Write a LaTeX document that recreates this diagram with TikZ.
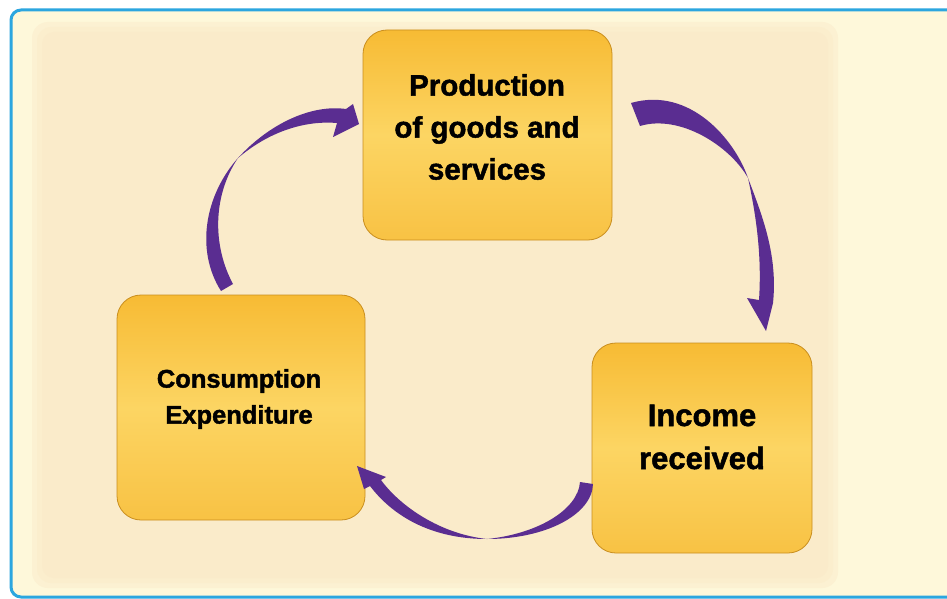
\documentclass[tikz,border=0pt]{standalone}
\usepackage{fontspec}
\setmainfont{Liberation Sans}[BoldFeatures={FakeBold=1.6}]
\definecolor{frameblue}{HTML}{2CA6DF}
\definecolor{outerbg}{HTML}{FEF8DA}
\definecolor{innerbg}{HTML}{FAEBCA}
\definecolor{boxtop}{HTML}{F7BB34}
\definecolor{boxmid}{HTML}{FCD563}
\definecolor{boxbot}{HTML}{F8C244}
\definecolor{boxedge}{HTML}{C98E1E}
\definecolor{arrowpurple}{HTML}{5A2D91}
\tikzset{
  flowbox/.style={rectangle, rounded corners=24pt, draw=boxedge, line width=0.8pt,
    top color=boxtop, bottom color=boxbot, middle color=boxmid, inner sep=0pt},
  boxtext/.style={align=center, font=\bfseries, text=black},
  curvearrow/.style={fill=arrowpurple, draw=none}
}
\begin{document}
\begin{tikzpicture}[x=1pt,y=-1pt]
\useasboundingbox (0,0) rectangle (947,599);
% background frame
\fill[white] (0,0) rectangle (947,599);
\draw[frameblue, line width=3pt, fill=outerbg, rounded corners=10pt] (11,10) rectangle (965,597);
\fill[innerbg!50!outerbg, rounded corners=16pt] (32,22) rectangle (838,588);
\fill[innerbg!80!outerbg, rounded corners=14pt] (37,27) rectangle (833,583);
\fill[innerbg, rounded corners=12pt] (42,32) rectangle (828,578);

% boxes
\node[flowbox, minimum width=249pt, minimum height=210pt] (prod) at (487.5,135) {};
\node[flowbox, minimum width=248pt, minimum height=225pt] (cons) at (241,407.5) {};
\node[flowbox, minimum width=220pt, minimum height=210pt] (inc) at (702,448) {};

% texts
\node[boxtext, font=\bfseries\fontsize{29.5}{42}\selectfont] (prodtxt) at (487,127)
  {Production\\of goods and\\services};
\node[boxtext, font=\bfseries\fontsize{25.5}{36}\selectfont] (constxt) at (239,399)
  {Consumption\\Expenditure};
\node[boxtext, font=\bfseries\fontsize{31}{43}\selectfont] (inctxt) at (702,437)
  {Income\\received};

% arrow: production -> income (top right)
\fill[curvearrow] (631,103) .. controls (690,86) and (735,140) .. (748,178)
  .. controls (762,215) and (778,255) .. (773,303)
  -- (766,331) -- (747,298) -- (759,300)
  .. controls (762,255) and (756,215) .. (748,178)
  .. controls (730,146) and (680,114) .. (640,126) -- cycle;

% arrow: income -> consumption (bottom)
\fill[curvearrow] (593,484) .. controls (592,515) and (545,539) .. (487,539)
  .. controls (430,539) and (392,515) .. (370,486)
  -- (364,489) -- (357,466) -- (386,477) -- (381,480)
  .. controls (400,506) and (440,534) .. (487,539)
  .. controls (537,534) and (578,510) .. (580,482) -- cycle;

% arrow: consumption -> production (left)
\fill[curvearrow] (221,291) .. controls (195,250) and (205,195) .. (238,158)
  .. controls (268,125) and (310,104) .. (346,109)
  -- (353,104) -- (359,124) -- (333,137) -- (337,123)
  .. controls (300,120) and (265,135) .. (238,158)
  .. controls (213,195) and (212,245) .. (233,284) -- cycle;
\end{tikzpicture}
\end{document}
